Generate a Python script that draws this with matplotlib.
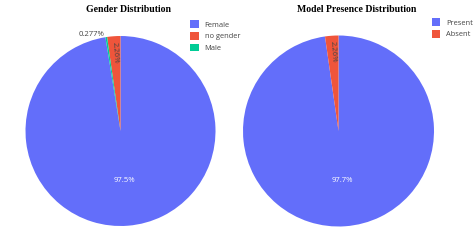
import matplotlib
matplotlib.use("Agg")
import matplotlib.pyplot as plt
from matplotlib.patches import Patch
import numpy as np

# data (percent shares)
gender_labels = ["Female", "no gender", "Male"]
gender_values = [97.463, 2.26, 0.277]
presence_labels = ["Present", "Absent"]
presence_values = [97.74, 2.26]
colors = ["#636EFA", "#EF553B", "#00CC96"]

W, H = 476, 245
fig = plt.figure(figsize=(W / 100, H / 100), dpi=100)
sans = ["Open Sans", "DejaVu Sans"]


def px_axes(cx, cy, r):
    # square axes in pixel coords, pie fills it
    return fig.add_axes([(cx - r) / W, (H - cy - r) / H, 2 * r / W, 2 * r / H])


def draw_pie(ax, values, cols):
    # first slice is the big one; small ones sit just left of 12 o'clock
    start = 90 + 360 * (1 - values[0] / sum(values))
    wedges, _ = ax.pie(values, colors=cols, startangle=start, counterclock=True,
                       radius=1, wedgeprops=dict(linewidth=0))
    ax.set_xlim(-1, 1)
    ax.set_ylim(-1, 1)
    ax.axis("off")
    return wedges


def pct(v):
    return f"{v:.3g}%"


def label_pie(ax, wedges, values, outside=()):
    for i, (w, v) in enumerate(zip(wedges, values)):
        mid = np.deg2rad((w.theta1 + w.theta2) / 2)
        if i == 0:
            ax.text(0.52 * np.cos(mid), 0.52 * np.sin(mid), pct(v), color="white",
                    ha="center", va="center", fontsize=5.6, family=sans)
        elif i in outside:
            ax.text(np.cos(mid) - 0.02, np.sin(mid) - 0.01, pct(v),
                    color="#444444", ha="right", va="bottom", fontsize=5.6,
                    family=sans)
        else:
            ang = np.rad2deg(mid) - 180
            ax.text(0.83 * np.cos(mid), 0.83 * np.sin(mid), pct(v), color="#444444",
                    ha="center", va="center", rotation=ang, fontsize=5.6,
                    family=sans, rotation_mode="anchor")


ax1 = px_axes(120.5, 131, 95)
w1 = draw_pie(ax1, gender_values, colors)
label_pie(ax1, w1, gender_values, outside=(2,))

ax2 = px_axes(338.5, 131, 95.5)
w2 = draw_pie(ax2, presence_values, colors[:2])
label_pie(ax2, w2, presence_values)

# titles
fig.text(129 / W, 1 - 9 / H, "Gender Distribution", ha="center", va="center",
         fontsize=7, fontweight="bold", family="Liberation Serif")
fig.text(357 / W, 1 - 9 / H, "Model Presence Distribution", ha="center",
         va="center", fontsize=7, fontweight="bold", family="Liberation Serif")

# legends
leg_kw = dict(loc="upper left", frameon=False, borderaxespad=0, borderpad=0,
              handlelength=1.15, handleheight=1.15, handletextpad=0.8,
              labelspacing=0.45, prop={"family": sans, "size": 5.4},
              labelcolor="#444444")
h1 = [Patch(facecolor=c) for c in colors]
fig.legend(h1, gender_labels, bbox_to_anchor=(190 / W, 1 - 20.5 / H), **leg_kw)
h2 = [Patch(facecolor=c) for c in colors[:2]]
fig.legend(h2, presence_labels, bbox_to_anchor=(431.5 / W, 1 - 18.5 / H), **leg_kw)

fig.savefig("out.png", dpi=100)
